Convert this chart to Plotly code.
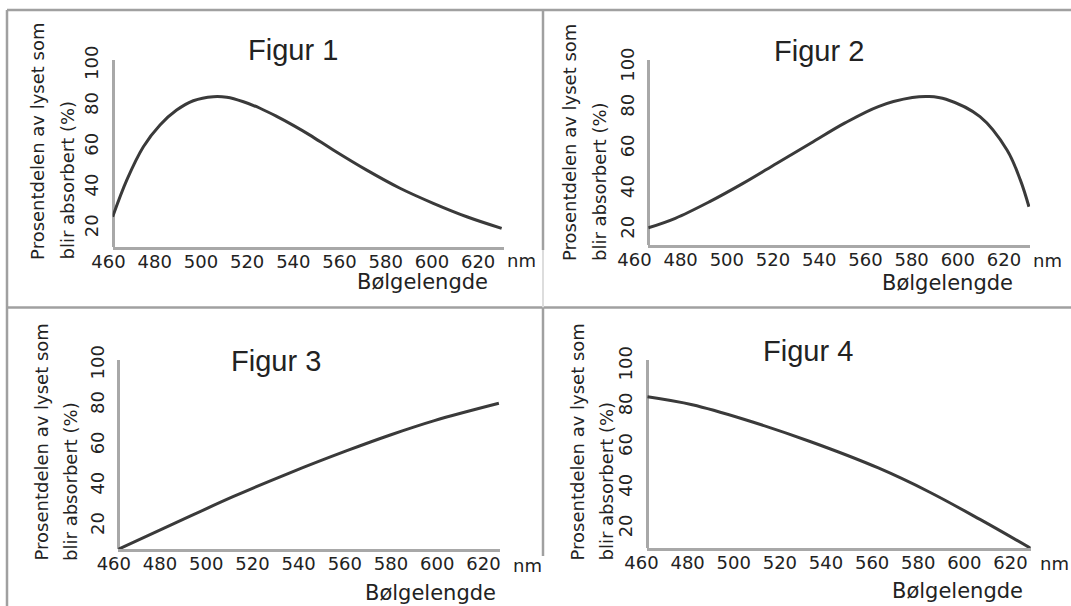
import plotly.graph_objects as go

W, H = 1071, 606

# ---------------- data ----------------
wavelength_ticks = [460, 480, 500, 520, 540, 560, 580, 600, 620]
absorb_ticks = [20, 40, 60, 80, 100]
titles = ["Figur 1", "Figur 2", "Figur 3", "Figur 4"]
ytitle_line1 = "Prosentdelen av lyset som"
ytitle_line2 = "blir absorbert (%)"
xtitle = "Bølgelengde"
xunit = "nm"

fig1_nm = [461.8, 467.9, 475.1, 482.3, 489.5, 496.7, 505.4, 511.2, 518.4, 525.6, 532.8, 540.0,
           547.2, 557.3, 571.8, 586.2, 600.6, 615.1, 630.2]
fig1_pct = [25.7, 43.7, 60.1, 70.8, 78.1, 82.7, 84.7, 84.4, 82.2, 79.0, 75.0, 70.6,
            65.8, 58.5, 48.6, 39.7, 32.3, 25.7, 20.0]

fig2_nm = [466.0, 477.7, 492.4, 507.0, 521.7, 536.3, 551.0, 565.6, 580.3, 587.6, 594.9, 609.6, 621.3, 627.1, 630.8]
fig2_pct = [21.0, 25.7, 33.8, 42.9, 52.8, 62.6, 72.5, 80.7, 85.1, 85.6, 84.3, 75.7, 59.3, 44.5, 31.4]

fig3_nm = [461.9, 486.0, 511.6, 536.5, 561.2, 580.0, 598.8, 626.7]
fig3_pct = [8.5, 21.2, 34.6, 46.6, 57.6, 65.4, 72.4, 81.0]

fig4_nm = [462.6, 482.0, 504.0, 533.4, 562.7, 584.8, 606.8, 628.8]
fig4_pct = [84.8, 80.9, 73.9, 62.7, 49.8, 38.0, 24.5, 10.3]

series = [(fig1_nm, fig1_pct), (fig2_nm, fig2_pct), (fig3_nm, fig3_pct), (fig4_nm, fig4_pct)]

# ---------------- layout geometry (pixels) ----------------
geom = [
    dict(px460=108.5, sc=2.31, x0=461.8, x1=631.0, yb=246.7, yt=60, yr=[11.0, 102.7],
         title=(293, 50), yt1=37.4, yt2=67.0, ytb=262, xt=(422, 282), nm=(521, 260)),
    dict(px460=634.4, sc=2.31, x0=466.0, x1=631.3, yb=244.5, yt=60, yr=[12.8, 103.6],
         title=(819, 51), yt1=569.5, yt2=599.5, ytb=263, xt=(947, 283), nm=(1047, 260)),
    dict(px460=113.8, sc=2.31, x0=461.9, x1=627.4, yb=549.3, yt=360, yr=[8.5, 102.5],
         title=(276, 361), yt1=41.0, yt2=70.4, ytb=563, xt=(430, 593), nm=(527, 565)),
    dict(px460=641.5, sc=2.306, x0=462.2, x1=628.8, yb=548.3, yt=360, yr=[10.3, 102.9],
         title=(808, 351), yt1=577.0, yt2=606.0, ytb=563, xt=(957, 591), nm=(1054, 563)),
]

TXT = "#222222"
AXC = "#a8a8a8"
CURVE = "#3a3a3a"
BORDER = "#a0a0a0"
TICKFONT = dict(family="DejaVu Sans", size=18, color=TXT)


def xp(px):
    return px / W


def yp(py):
    return 1 - py / H


fig = go.Figure()
layout = dict(
    width=W, height=H, margin=dict(l=0, r=0, t=0, b=0, autoexpand=False),
    paper_bgcolor="white", plot_bgcolor="rgba(0,0,0,0)",
    showlegend=False, template="none",
)
annotations = []

for i, ((nm, pct), g) in enumerate(zip(series, geom)):
    xt_id = 2 * i + 1       # axis carrying the tick labels
    xl_id = 2 * i + 2       # axis drawing the axis line
    y_id = i + 1
    lo_t = 456.0
    px = lambda v, g=g: g["px460"] + (v - 460) * g["sc"]

    # visible curve on the axis-line x axis
    fig.add_trace(go.Scatter(
        x=nm, y=pct, mode="lines",
        line=dict(color=CURVE, width=3, shape="spline", smoothing=1.0),
        xaxis=f"x{xl_id}", yaxis=f"y{y_id}", hoverinfo="skip",
    ))
    # same series, transparent, on the tick-label x axis (same scale)
    fig.add_trace(go.Scatter(
        x=nm, y=pct, mode="lines", opacity=0,
        line=dict(color=CURVE, width=1),
        xaxis=f"x{xt_id}", yaxis=f"y{y_id}", hoverinfo="skip",
    ))

    layout[f"xaxis{xt_id}"] = dict(
        domain=[xp(px(lo_t)), xp(px(g["x1"]))], range=[lo_t, g["x1"]],
        anchor=f"y{y_id}", showline=False, showgrid=False, zeroline=False,
        tickmode="array", tickvals=wavelength_ticks, ticks="", automargin=False,
        tickfont=TICKFONT, ticklabelstandoff=2,
    )
    layout[f"xaxis{xl_id}"] = dict(
        domain=[xp(px(g["x0"])), xp(px(g["x1"]))], range=[g["x0"], g["x1"]],
        anchor=f"y{y_id}", showline=True, linecolor=AXC, linewidth=3, automargin=False,
        showgrid=False, zeroline=False, showticklabels=False, ticks="",
    )
    layout[f"yaxis{y_id}"] = dict(
        domain=[yp(g["yb"]), yp(g["yt"])], range=g["yr"],
        anchor="free", position=xp(px(g["x0"])), automargin=False,
        showline=True, linecolor=AXC, linewidth=3,
        showgrid=False, zeroline=False, tickmode="array", tickvals=absorb_ticks,
        ticks="", tickangle=-90, tickfont=TICKFONT, ticklabelstandoff=6,
    )

    tx, ty = g["title"]
    annotations.append(dict(text=titles[i], x=xp(tx), y=yp(ty), xref="paper", yref="paper",
                            xanchor="center", yanchor="middle", showarrow=False,
                            font=dict(family="Liberation Sans", size=29, color=TXT)))
    for lx, txt in ((g["yt1"], ytitle_line1), (g["yt2"], ytitle_line2)):
        annotations.append(dict(text=txt, x=xp(lx), y=yp(g["ytb"]), xref="paper", yref="paper",
                                xanchor="center", yanchor="bottom", textangle=-90, showarrow=False,
                                font=dict(family="DejaVu Sans", size=18, color=TXT)))
    bx, by = g["xt"]
    annotations.append(dict(text=xtitle, x=xp(bx), y=yp(by), xref="paper", yref="paper",
                            xanchor="center", yanchor="middle", showarrow=False,
                            font=dict(family="DejaVu Sans", size=21, color=TXT)))
    nx, ny = g["nm"]
    annotations.append(dict(text=xunit, x=xp(nx), y=yp(ny), xref="paper", yref="paper",
                            xanchor="center", yanchor="middle", showarrow=False,
                            font=TICKFONT))

layout["annotations"] = annotations


def seg(x0, y0, x1, y1, color=BORDER, w=2.5):
    return dict(type="line", xref="paper", yref="paper", x0=xp(x0), y0=yp(y0),
                x1=xp(x1), y1=yp(y1), line=dict(color=color, width=w))


layout["shapes"] = [
    seg(7, 10, W, 10),
    seg(7, 10, 7, H),
    seg(7, 307.5, W, 307.5),
    seg(543, 10, 543, 250),
    seg(543, 250, 543, 307.5, color="#dddddd", w=2),
    seg(543, 307.5, 543, 556),
]

fig.update_layout(**layout)
fig.write_html("out.html", config={"displayModeBar": False},
               post_script="document.body.style.margin='0px';")
